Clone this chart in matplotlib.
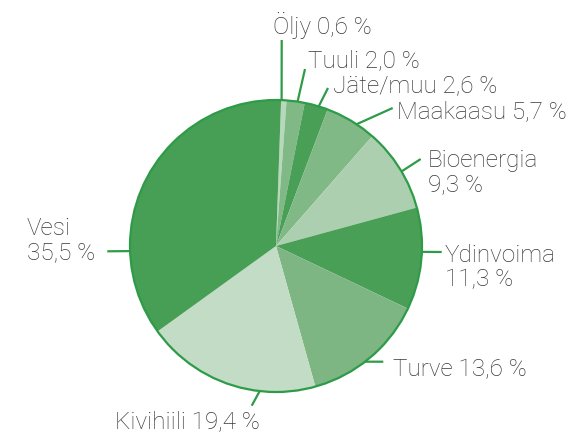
import numpy as np
import matplotlib
matplotlib.use('Agg')
from matplotlib import pyplot as plt
from matplotlib.patches import Circle

# energy sources, clockwise from the top
labels = ['Öljy', 'Tuuli', 'Jäte/muu', 'Maakaasu', 'Bioenergia',
          'Ydinvoima', 'Turve', 'Kivihiili', 'Vesi']
shares = [0.6, 2.0, 2.6, 5.7, 9.3, 11.3, 13.6, 19.4, 35.5]
# label text split into lines
label_lines = [['Öljy 0,6 %'], ['Tuuli 2,0 %'], ['Jäte/muu 2,6 %'], ['Maakaasu 5,7 %'],
               ['Bioenergia', '9,3 %'], ['Ydinvoima', '11,3 %'], ['Turve 13,6 %'],
               ['Kivihiili 19,4 %'], ['Vesi', '35,5 %']]

dark, mid, light = '#4a9f57', '#80b886', '#b8d8bb'
colors_ = [light, mid, dark, mid, '#acd0af', dark, '#7db583', '#c3dcc5', '#479e55']
edge_green = '#2e9b48'
text_col = '#383838'

W, H = 569, 435
cx, cy, r = 276, H - 247, 146

# layout: edge angle of leader start (deg), leader end (px, y down), text pos (px, y down baseline)
lead_ang = [87.8, 81.5, 73.0, 56.5, 30.7, -2.3, -52.4, -96.4, 182.0]
lead_end = [(281.7, 41), (305, 70), (328, 89), (392.7, 109), (420.7, 160),
            (441.7, 253), (383.3, 362.7), (251.7, 406.7), (107.3, 252.3)]
text_pos = [(273, 34), (308, 67), (333, 92), (397, 118), (428, 167),
            (445, 262), (393, 376), (115, 428), (27, 235)]

fig = plt.figure(figsize=(W / 100, H / 100), dpi=100)
ax = fig.add_axes([0, 0, 1, 1])
ax.axis('off')

ax.pie(shares, colors=colors_, startangle=88, counterclock=False,
       center=(cx, cy), radius=r, wedgeprops=dict(linewidth=0))
ax.set_xlim(0, W)
ax.set_ylim(0, H)
ax.set_aspect('equal')
ax.add_patch(Circle((cx, cy), r, fill=False, edgecolor=edge_green, lw=1.6, zorder=3))

for ang, (ex, ey), (tx, ty), lines in zip(lead_ang, lead_end, text_pos, label_lines):
    a = np.deg2rad(ang)
    sx, sy = cx + r * np.cos(a), cy + r * np.sin(a)
    ax.plot([sx, ex], [sy, H - ey], color=edge_green, lw=1.6, solid_capstyle='butt', zorder=2)
    for k, line in enumerate(lines):
        ax.text(tx, H - ty - k * 24.5, line, ha='left', va='baseline', fontsize=17.5,
                family='Roboto', fontweight='light', color=text_col)

fig.savefig('out.png', dpi=100)
